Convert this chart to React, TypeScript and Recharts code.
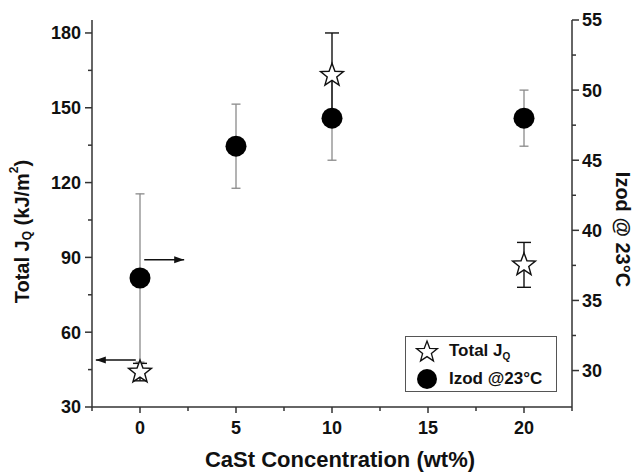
import { ScatterChart, Scatter, XAxis, YAxis, ErrorBar, ReferenceLine, Legend, Label } from "recharts";

// CaSt concentration (wt%) for each measurement
const izodConc = [0, 5, 10, 20];
const izodValue = [36.6, 46, 48, 48];
const izodErr = [6, 3, 3, 2];

const jqConc = [0, 10, 20];
const jqValue = [44, 163, 87];
const jqErr = [3.5, 17, 9];

const xMajor = [0, 5, 10, 15, 20];
const xTicks = [-2.5, 0, 2.5, 5, 7.5, 10, 12.5, 15, 17.5, 20, 22.5];
const leftMajor = [30, 60, 90, 120, 150, 180];
const leftTicks = [30, 45, 60, 75, 90, 105, 120, 135, 150, 165, 180];
const rightMajor = [30, 35, 40, 45, 50, 55];
const rightTicks = [30, 32.5, 35, 37.5, 40, 42.5, 45, 47.5, 50, 52.5, 55];

const izodData = izodConc.map((x, i) => ({ x, y: izodValue[i], err: izodErr[i] }));
const jqData = jqConc.map((x, i) => ({ x, y: jqValue[i], err: jqErr[i] }));

const FONT = "'Liberation Sans', Arial, Helvetica, sans-serif";
const AXIS = "#333";
const INK = "#111";

function starPoints(cx: number, cy: number, R: number, r: number) {
  const pts: string[] = [];
  for (let i = 0; i < 10; i++) {
    const rad = i % 2 === 0 ? R : r;
    const a = -Math.PI / 2 + (i * Math.PI) / 5;
    pts.push(`${(cx + rad * Math.cos(a)).toFixed(2)},${(cy + rad * Math.sin(a)).toFixed(2)}`);
  }
  return pts.join(" ");
}

const Star = (props: any) => (
  <polygon points={starPoints(props.cx, props.cy, 12, 5)} fill="#fff" stroke={INK} strokeWidth={1.4} strokeLinejoin="miter" />
);

const Dot = (props: any) => <circle cx={props.cx} cy={props.cy} r={10.5} fill="#000" />;

const LeftTick = (props: any) => {
  const { x, y, payload } = props;
  const major = leftMajor.includes(payload.value);
  return (
    <g>
      <line x1={x} x2={x - (major ? 7 : 4)} y1={y} y2={y} stroke={AXIS} strokeWidth={1.5} />
      {major && (
        <text x={x - 11} y={y} dy="0.36em" textAnchor="end" fontFamily={FONT} fontWeight="bold" fontSize={18} fill={INK}>
          {payload.value}
        </text>
      )}
    </g>
  );
};

const RightTick = (props: any) => {
  const { x, y, payload } = props;
  const major = rightMajor.includes(payload.value);
  return (
    <g>
      <line x1={x} x2={x + (major ? 7 : 4)} y1={y} y2={y} stroke={AXIS} strokeWidth={1.5} />
      {major && (
        <text x={x + 10} y={y} dy="0.36em" textAnchor="start" fontFamily={FONT} fontWeight="bold" fontSize={18} fill={INK}>
          {payload.value}
        </text>
      )}
    </g>
  );
};

const BottomTick = (props: any) => {
  const { x, y, payload } = props;
  const major = xMajor.includes(payload.value);
  return (
    <g>
      <line x1={x} x2={x} y1={y} y2={y + (major ? 6 : 4)} stroke={AXIS} strokeWidth={1.5} />
      {major && (
        <text x={x} y={y + 27} textAnchor="middle" fontFamily={FONT} fontWeight="bold" fontSize={18} fill={INK}>
          {payload.value}
        </text>
      )}
    </g>
  );
};

const Arrow = (dir: "left" | "right") => (props: any) => {
  const { x1, y1, x2, y2 } = props;
  const tip = dir === "left" ? Math.min(x1, x2) : Math.max(x1, x2);
  const s = dir === "left" ? 1 : -1;
  return (
    <g>
      <line x1={x1} y1={y1} x2={x2} y2={y2} stroke={INK} strokeWidth={1.5} />
      <polygon points={`${tip},${y1} ${tip + s * 10},${y1 - 3.5} ${tip + s * 10},${y1 + 3.5}`} fill={INK} />
    </g>
  );
};

const LegendBox = () => (
  <div
    style={{
      border: "1px solid #555",
      background: "#fff",
      width: 152,
      height: 56,
      boxSizing: "border-box",
      padding: "2px 0 0 9px",
      fontFamily: FONT,
      fontWeight: "bold",
      fontSize: 17,
      color: INK,
      lineHeight: 1,
    }}
  >
    <div style={{ display: "flex", alignItems: "center", height: 26 }}>
      <svg width={26} height={26}>
        <polygon points={starPoints(12, 13, 11, 4.6)} fill="#fff" stroke={INK} strokeWidth={1.3} />
      </svg>
      <span style={{ marginLeft: 8 }}>
        Total J<sub style={{ fontSize: 10 }}>Q</sub>
      </span>
    </div>
    <div style={{ display: "flex", alignItems: "center", height: 27 }}>
      <svg width={26} height={26}>
        <circle cx={12} cy={13} r={10} fill="#000" />
      </svg>
      <span style={{ marginLeft: 8 }}>Izod @23°C</span>
    </div>
  </div>
);

export default function App() {
  return (
    <div style={{ position: "absolute", left: 0, top: 0, background: "#fff" }}>
      <ScatterChart width={636} height={474} margin={{ top: 20, right: 0, bottom: 0, left: 0 }}>
        <XAxis
          dataKey="x"
          type="number"
          domain={[-2.5, 22.5]}
          ticks={xTicks}
          interval={0}
          allowDataOverflow
          height={67}
          tickSize={0}
          tickMargin={0}
          tick={BottomTick}
          axisLine={{ stroke: AXIS, strokeWidth: 1.5 }}
        >
          <Label
            content={(p: any) => (
              <text
                x={p.viewBox.x + p.viewBox.width / 2 + 8}
                y={p.viewBox.y + 60}
                textAnchor="middle"
                fontFamily={FONT}
                fontWeight="bold"
                fontSize={22}
                fill={INK}
              >
                CaSt Concentration (wt%)
              </text>
            )}
          />
        </XAxis>
        <XAxis
          xAxisId="top"
          orientation="top"
          type="number"
          domain={[-2.5, 22.5]}
          height={0}
          tick={false}
          tickLine={false}
          axisLine={{ stroke: AXIS, strokeWidth: 1.5 }}
        />
        <YAxis
          yAxisId="left"
          dataKey="y"
          type="number"
          domain={[30, 185.2]}
          ticks={leftTicks}
          interval={0}
          allowDataOverflow
          width={92}
          tickSize={0}
          tickMargin={0}
          tick={LeftTick}
          axisLine={{ stroke: AXIS, strokeWidth: 1.5 }}
        >
          <Label
            content={(p: any) => {
              const cx = p.viewBox.x + 22;
              const cy = p.viewBox.y + p.viewBox.height / 2 + 18;
              return (
                <text
                  x={cx}
                  y={cy}
                  transform={`rotate(-90 ${cx} ${cy})`}
                  textAnchor="middle"
                  dominantBaseline="central"
                  fontFamily={FONT}
                  fontWeight="bold"
                  fontSize={20}
                  fill={INK}
                >
                  Total J
                  <tspan fontSize={12} dy={5}>Q</tspan>
                  <tspan dy={-5}> (kJ/m</tspan>
                  <tspan fontSize={12} dy={-8}>2</tspan>
                  <tspan dy={8}>)</tspan>
                </text>
              );
            }}
          />
        </YAxis>
        <YAxis
          yAxisId="right"
          orientation="right"
          dataKey="y"
          type="number"
          domain={[27.4, 55]}
          ticks={rightTicks}
          interval={0}
          allowDataOverflow
          width={64}
          tickSize={0}
          tickMargin={0}
          tick={RightTick}
          axisLine={{ stroke: AXIS, strokeWidth: 1.5 }}
        >
          <Label
            content={(p: any) => {
              const cx = p.viewBox.x + 51;
              const cy = p.viewBox.y + p.viewBox.height / 2 + 16;
              return (
                <text
                  x={cx}
                  y={cy}
                  transform={`rotate(90 ${cx} ${cy})`}
                  textAnchor="middle"
                  dominantBaseline="central"
                  fontFamily={FONT}
                  fontWeight="bold"
                  fontSize={20}
                  fill={INK}
                >
                  Izod @ 23°C
                </text>
              );
            }}
          />
        </YAxis>

        <Scatter name="Izod @23°C" data={izodData} yAxisId="right" shape={Dot} isAnimationActive={false}>
          <ErrorBar dataKey="err" direction="y" width={4.5} stroke="#8a8a8a" strokeWidth={1.3} />
        </Scatter>
        <Scatter name="Total JQ" data={jqData} yAxisId="left" shape={Star} isAnimationActive={false}>
          <ErrorBar dataKey="err" direction="y" width={7} stroke={INK} strokeWidth={1.4} />
        </Scatter>

        <ReferenceLine
          yAxisId="left"
          segment={[{ x: -0.22, y: 48.8 }, { x: -2.3, y: 48.8 }]}
          shape={Arrow("left")}
          ifOverflow="visible"
        />
        <ReferenceLine
          yAxisId="right"
          segment={[{ x: 0.22, y: 37.9 }, { x: 2.3, y: 37.9 }]}
          shape={Arrow("right")}
          ifOverflow="visible"
        />

        <Legend
          layout="horizontal"
          align="center"
          verticalAlign="middle"
          content={LegendBox}
          wrapperStyle={{ position: "absolute", left: 405, top: 336, width: 152, height: 56 }}
        />
      </ScatterChart>
    </div>
  );
}
